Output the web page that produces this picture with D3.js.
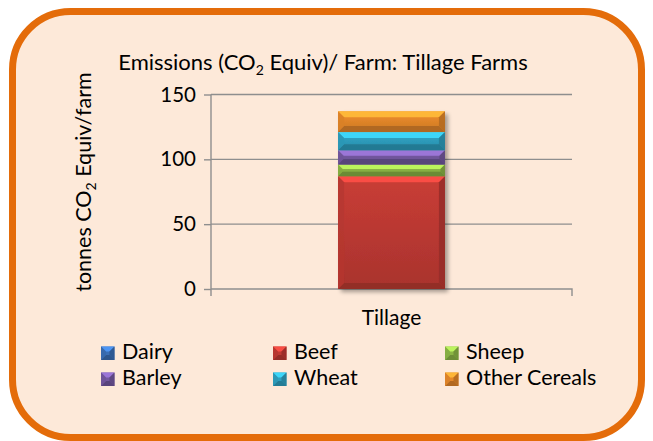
<!DOCTYPE html>
<html>
<head>
<meta charset="utf-8">
<script src="https://cdn.jsdelivr.net/npm/d3@7"></script>
<style>
  html, body { margin: 0; padding: 0; background: #ffffff; }
  svg { display: block; }
  text { font-family: Lato, "Open Sans", sans-serif; fill: #000; }
</style>
</head>
<body>
<script>
// Emissions per farm on tillage farms, stacked by source
const categories = ["Tillage"];
const seriesNames = ["Dairy", "Beef", "Sheep", "Barley", "Wheat", "Other Cereals"];
const seriesValues = [0, 87, 9, 11, 14, 16];
const seriesColors = ["#3A6FB5", "#BF3A33", "#8CB545", "#7458A0", "#2E9FBF", "#E5882A"];
const yTicks = [0, 50, 100, 150];

const W = 653, H = 441;
const plot = { left: 211, right: 572, top: 94.5, bottom: 289 };

const svg = d3.select("body").append("svg")
  .attr("width", W).attr("height", H);

const defs = svg.append("defs");
const shadow = defs.append("filter").attr("id", "barShadow")
  .attr("x", "-20%").attr("y", "-20%").attr("width", "150%").attr("height", "150%");
shadow.append("feGaussianBlur").attr("in", "SourceAlpha").attr("stdDeviation", 2);
shadow.append("feOffset").attr("dx", 3).attr("dy", 3).attr("result", "off");
shadow.append("feComponentTransfer").append("feFuncA").attr("type", "linear").attr("slope", 0.35);
const merge = shadow.append("feMerge");
merge.append("feMergeNode");
merge.append("feMergeNode").attr("in", "SourceGraphic");

seriesColors.forEach((c, i) => {
  const g = defs.append("linearGradient").attr("id", "grad" + i)
    .attr("x1", 0).attr("y1", 0).attr("x2", 0).attr("y2", 1);
  g.append("stop").attr("offset", "0%").attr("stop-color", d3.color(c).brighter(0.15));
  g.append("stop").attr("offset", "100%").attr("stop-color", d3.color(c).darker(0.35));
});

// Rounded frame
svg.append("rect")
  .attr("x", 12.5).attr("y", 11.5).attr("width", 629).attr("height", 426)
  .attr("rx", 58).attr("ry", 58)
  .attr("fill", "#FDE9D9").attr("stroke", "#E46C0A").attr("stroke-width", 7);

const x = d3.scaleBand().domain(categories)
  .range([plot.left, plot.right]).paddingInner(0.543).paddingOuter(0.543);
const y = d3.scaleLinear().domain([0, 150]).range([plot.bottom, plot.top]);

// Gridlines
svg.append("g").selectAll("line").data(yTicks.filter(d => d > 0)).join("line")
  .attr("x1", plot.left).attr("x2", plot.right)
  .attr("y1", d => y(d)).attr("y2", d => y(d))
  .attr("stroke", "#8E8E8E").attr("stroke-width", 1.4);

// Y axis
const yAxis = svg.append("g").attr("transform", `translate(${plot.left},0)`)
  .call(d3.axisLeft(y).tickValues(yTicks).tickSize(7).tickPadding(8));
yAxis.select(".domain").attr("stroke", "#8E8E8E").attr("stroke-width", 1.4)
  .attr("d", `M0,${plot.top}V${plot.bottom + 7}`);
yAxis.selectAll(".tick line").attr("stroke", "#8E8E8E").attr("stroke-width", 1.4);
yAxis.selectAll(".tick text").attr("font-size", 20.5).attr("fill", "#000")
  .style("font-family", "Lato, sans-serif");

// X axis
const xAxis = svg.append("g").attr("transform", `translate(0,${plot.bottom})`)
  .call(d3.axisBottom(x).tickSize(0).tickPadding(21));
xAxis.select(".domain").attr("stroke", "#8E8E8E").attr("stroke-width", 1.4)
  .attr("d", `M${plot.left},0H${plot.right}V7`);
xAxis.selectAll(".tick text").attr("font-size", 21).attr("fill", "#000")
  .style("font-family", "Lato, sans-serif");

// Stacked bar segments with bevelled edges
const stackData = [Object.fromEntries(seriesNames.map((s, i) => [s, seriesValues[i]]))];
const stacked = d3.stack().keys(seriesNames)(stackData);

function bevel(g, bx, by, bw, bh, base, gradId, b) {
  const c = d3.color(base);
  g.append("rect").attr("x", bx).attr("y", by).attr("width", bw).attr("height", bh)
    .attr("fill", gradId ? `url(#${gradId})` : base);
  const poly = (pts, fill, op) => g.append("polygon")
    .attr("points", pts.map(p => p.join(",")).join(" "))
    .attr("fill", fill).attr("opacity", op);
  poly([[bx, by], [bx + bw, by], [bx + bw - b, by + b], [bx + b, by + b]], c.brighter(0.9), 0.9);
  poly([[bx, by + bh], [bx + bw, by + bh], [bx + bw - b, by + bh - b], [bx + b, by + bh - b]], c.darker(0.8), 0.9);
  poly([[bx, by], [bx + b, by + b], [bx + b, by + bh - b], [bx, by + bh]], c.darker(0.15), 0.8);
  poly([[bx + bw, by], [bx + bw - b, by + b], [bx + bw - b, by + bh - b], [bx + bw, by + bh]], c.darker(0.7), 0.85);
}

const barG = svg.append("g").attr("filter", "url(#barShadow)");
stacked.forEach((layer, i) => {
  layer.forEach(d => {
    const y0 = y(d[1]), y1 = y(d[0]);
    const h = y1 - y0;
    if (h <= 0) return;
    const g = barG.append("g");
    bevel(g, x(categories[0]), y0, x.bandwidth(), h, seriesColors[i], "grad" + i, Math.min(6, h / 2.6));
  });
});

// Title
const title = svg.append("text").attr("x", 323).attr("y", 70)
  .attr("text-anchor", "middle").attr("font-size", 22);
title.append("tspan").text("Emissions (CO");
title.append("tspan").attr("font-size", 14).attr("dy", 5).text("2");
title.append("tspan").attr("dy", -5).text(" Equiv)/ Farm: Tillage Farms");

// Y axis label
const yl = svg.append("text").attr("transform", "translate(91,182) rotate(-90)")
  .attr("text-anchor", "middle").attr("font-size", 21.5);
yl.append("tspan").text("tonnes CO");
yl.append("tspan").attr("font-size", 14).attr("dy", 5).text("2");
yl.append("tspan").attr("dy", -5).text(" Equiv/farm");

// Legend
const legendCols = [101, 273, 445];
const legendRows = [359, 385];
const legend = svg.append("g");
seriesNames.forEach((name, i) => {
  const cx = legendCols[i % 3], by = legendRows[Math.floor(i / 3)];
  const g = legend.append("g");
  bevel(g, cx, by - 12.5, 13.5, 13.5, seriesColors[i], null, 5);
  g.append("text").attr("x", cx + 21).attr("y", by).attr("font-size", 21.5).text(name);
});
</script>
</body>
</html>
